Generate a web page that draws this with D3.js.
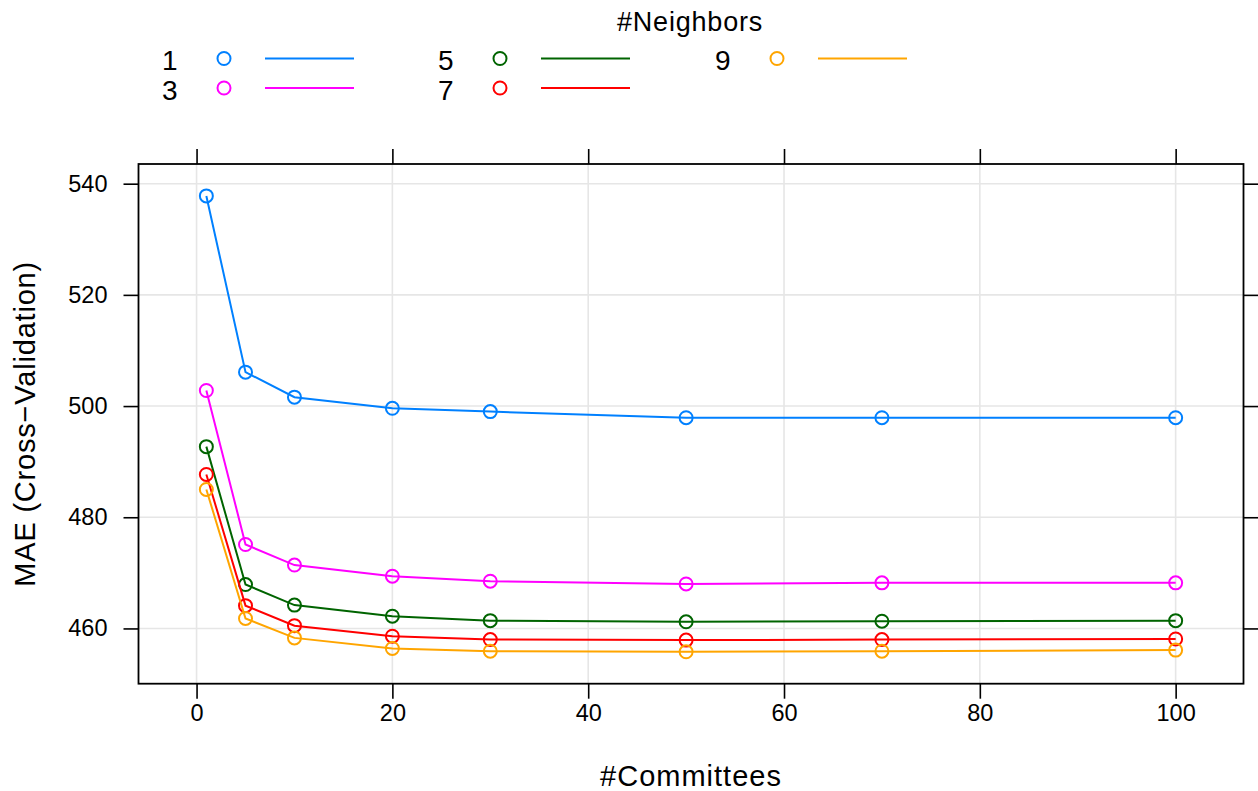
<!DOCTYPE html>
<html>
<head>
<meta charset="utf-8">
<script src="https://cdn.jsdelivr.net/npm/d3@7"></script>
<style>
  html, body { margin: 0; padding: 0; background: #fff; }
  text { font-family: "Liberation Sans", Arial, Helvetica, sans-serif; fill: #000; }
</style>
</head>
<body>
<svg id="chart" width="1258" height="791"></svg>
<script>
// Number of committees (x values)
const committees = [1, 5, 10, 20, 30, 50, 70, 100];

// MAE (cross-validation) for each number of neighbors
const neighbors = ["1", "3", "5", "7", "9"];
const mae1 = [537.8, 506.1, 501.6, 499.6, 499.0, 497.9, 497.9, 497.9];
const mae3 = [502.8, 475.1, 471.4, 469.4, 468.5, 468.0, 468.2, 468.2];
const mae5 = [492.7, 467.9, 464.2, 462.2, 461.4, 461.2, 461.3, 461.4];
const mae7 = [487.7, 464.1, 460.5, 458.6, 458.0, 457.9, 458.0, 458.1];
const mae9 = [485.0, 461.8, 458.3, 456.4, 455.9, 455.8, 455.9, 456.1];

const xTicks = [0, 20, 40, 60, 80, 100];
const yTicks = [460, 480, 500, 520, 540];
const colors = ["#0080ff", "#ff00ff", "#006400", "#ff0000", "#ffa500"];

const seriesValues = [mae1, mae3, mae5, mae7, mae9];
const series = neighbors.map((k, i) => ({
  key: k,
  color: colors[i],
  points: committees.map((c, j) => ({ x: c, y: seriesValues[i][j] }))
}));

const svg = d3.select("#chart");
const panel = { left: 138.5, right: 1243.5, top: 164, bottom: 683.7 };

// lattice-style padding: 7% of the data range on each side
function padded(vals) {
  const lo = d3.min(vals), hi = d3.max(vals), p = (hi - lo) * 0.07;
  return [lo - p, hi + p];
}
const x = d3.scaleLinear().domain(padded(committees)).range([panel.left, panel.right]);
const y = d3.scaleLinear().domain(padded(seriesValues.flat())).range([panel.bottom, panel.top]);

// grid
const grid = svg.append("g").attr("stroke", "#e6e6e6").attr("stroke-width", 1.6);
grid.selectAll("line.v").data(xTicks).join("line")
  .attr("x1", d => x(d)).attr("x2", d => x(d))
  .attr("y1", panel.top).attr("y2", panel.bottom);
grid.selectAll("line.h").data(yTicks).join("line")
  .attr("y1", d => y(d)).attr("y2", d => y(d))
  .attr("x1", panel.left).attr("x2", panel.right);

// axes (ticks on all four sides, labels on left and bottom)
const tickLen = 15;
const axisFont = 23.5;
const styleAxis = (g, showLabels) => {
  g.select(".domain").remove();
  g.selectAll(".tick line").attr("stroke", "#000").attr("stroke-width", 1.6);
  g.selectAll(".tick text")
    .style("font-size", axisFont + "px")
    .style("font-family", '"Liberation Sans", Arial, sans-serif')
    .attr("fill", "#000")
    .style("display", showLabels ? null : "none");
};
svg.append("g").attr("transform", `translate(0,${panel.bottom})`)
  .call(d3.axisBottom(x).tickValues(xTicks).tickSize(tickLen).tickPadding(6).tickFormat(d3.format("d")))
  .call(g => styleAxis(g, true));
svg.append("g").attr("transform", `translate(0,${panel.top})`)
  .call(d3.axisTop(x).tickValues(xTicks).tickSize(tickLen))
  .call(g => styleAxis(g, false));
svg.append("g").attr("transform", `translate(${panel.left},0)`)
  .call(d3.axisLeft(y).tickValues(yTicks).tickSize(tickLen).tickPadding(16).tickFormat(d3.format("d")))
  .call(g => styleAxis(g, true));
svg.append("g").attr("transform", `translate(${panel.right},0)`)
  .call(d3.axisRight(y).tickValues(yTicks).tickSize(tickLen))
  .call(g => styleAxis(g, false));

// series lines and open circles
const line = d3.line().x(d => x(d.x)).y(d => y(d.y));
const sg = svg.append("g").selectAll("g").data(series).join("g");
sg.append("path")
  .attr("d", d => line(d.points))
  .attr("fill", "none").attr("stroke", d => d.color).attr("stroke-width", 2);
sg.selectAll("circle").data(d => d.points.map(p => ({ ...p, color: d.color }))).join("circle")
  .attr("cx", d => x(d.x)).attr("cy", d => y(d.y)).attr("r", 6.5)
  .attr("fill", "none").attr("stroke", d => d.color).attr("stroke-width", 2);

// panel frame
svg.append("rect")
  .attr("x", panel.left).attr("y", panel.top)
  .attr("width", panel.right - panel.left).attr("height", panel.bottom - panel.top)
  .attr("fill", "none").attr("stroke", "#000").attr("stroke-width", 1.8);

// axis titles
svg.append("text")
  .attr("x", (panel.left + panel.right) / 2).attr("y", 786)
  .attr("text-anchor", "middle").style("font-size", "29px").style("letter-spacing", "1px")
  .text("#Committees");
svg.append("text")
  .attr("transform", `translate(35,${(panel.top + panel.bottom) / 2}) rotate(-90)`)
  .attr("text-anchor", "middle").style("font-size", "29px").style("letter-spacing", "0.8px")
  .text("MAE (Cross\u2212Validation)");

// legend
const legend = svg.append("g");
legend.append("text").attr("x", 690).attr("y", 31).attr("text-anchor", "middle")
  .style("font-size", "27px").style("letter-spacing", "0.8px").text("#Neighbors");
const colX = [162, 438, 715];
const rowY = [58.5, 88];
series.forEach((s, i) => {
  const cx = colX[Math.floor(i / 2)], cy = rowY[i % 2];
  const item = legend.append("g");
  item.append("text").attr("x", cx).attr("y", cy + 11.5).style("font-size", "28px").text(s.key);
  item.append("circle").attr("cx", cx + 62).attr("cy", cy).attr("r", 6.5)
    .attr("fill", "none").attr("stroke", s.color).attr("stroke-width", 2);
  item.append("line").attr("x1", cx + 103).attr("x2", cx + 192).attr("y1", cy).attr("y2", cy)
    .attr("stroke", s.color).attr("stroke-width", 2);
});
</script>
</body>
</html>
